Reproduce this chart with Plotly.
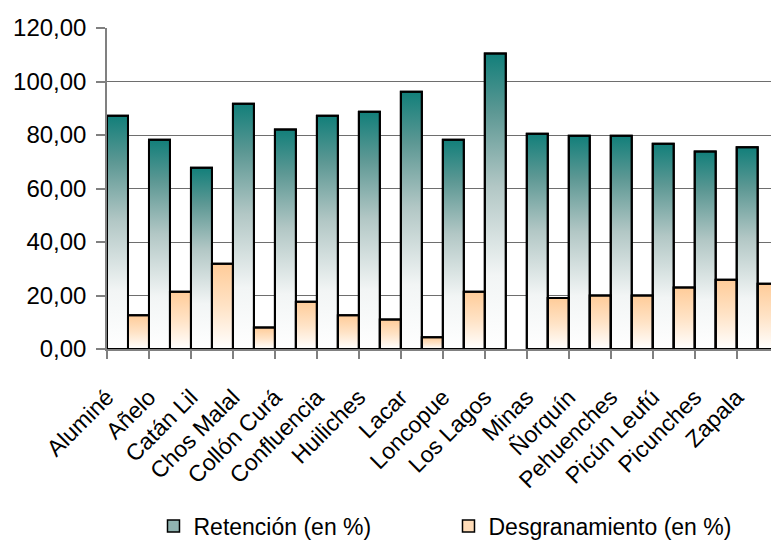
import plotly.graph_objects as go

categories = ["Aluminé", "Añelo", "Catán Lil", "Chos Malal", "Collón Curá", "Confluencia",
              "Huiliches", "Lacar", "Loncopue", "Los Lagos", "Minas", "Ñorquín",
              "Pehuenches", "Picún Leufú", "Picunches", "Zapala"]
retencion = [87.2, 78.2, 67.8, 91.7, 82.1, 87.2, 88.7, 96.2, 78.2, 110.5,
             80.5, 79.7, 79.7, 76.7, 73.8, 75.4]
desgranamiento = [12.6, 21.4, 31.9, 8.0, 17.7, 12.6, 11.0, 4.4, 21.4, None,
                  19.1, 20.0, 20.0, 23.0, 25.9, 24.4]
y_ticks = [0, 20, 40, 60, 80, 100, 120]

series = [
    ("Retención (en %)", retencion, -0.5,
     [[0, "#ffffff"], [0.25, "#f2f5f5"], [0.55, "#b2c7c5"], [0.8, "#5d9894"], [1, "#127f7a"]],
     "#8fb3b0"),
    ("Desgranamiento (en %)", desgranamiento, 0.0,
     [[0, "#ffffff"], [0.5, "#ffe3c6"], [1, "#ffcc99"]],
     "#ffdcb8"),
]
W = 0.5
idx = list(range(len(categories)))

fig = go.Figure()

# gradient fills (one per bar, derived from the data arrays)
for name, vals, off, cs, sw in series:
    for i, v in zip(idx, vals):
        if v is None:
            continue
        x0, x1 = i + off, i + off + W
        fig.add_trace(go.Scatter(
            x=[x0, x1, x1, x0, x0], y=[0, 0, v, v, 0],
            mode="lines", fill="toself",
            fillgradient=dict(type="vertical", colorscale=cs, start=0, stop=v),
            line=dict(color="black", width=2),
            showlegend=False, hoverinfo="skip",
        ))

# actual bars (outline) on an overlaying axis
for name, vals, off, cs, sw in series:
    fig.add_trace(go.Bar(
        x=idx, y=vals, offset=off, width=W, name=name,
        showlegend=False, xaxis="x2",
        marker=dict(color="rgba(0,0,0,0)", line=dict(color="black", width=2)),
    ))

# legend entries
for name, vals, off, cs, sw in series:
    fig.add_trace(go.Bar(
        x=[None], y=[None], name=name, showlegend=True,
        marker=dict(color=sw, line=dict(color="black", width=1.5)),
    ))

xr = [-0.5, 15.317]
fig.update_layout(
    width=771, height=540,
    margin=dict(l=107, r=0, t=28, b=191),
    paper_bgcolor="white", plot_bgcolor="white",
    font=dict(family="Liberation Sans, Arial, sans-serif", size=23, color="#000"),
    separators=",.",
    showlegend=True,
    barmode="overlay",
    xaxis=dict(
        range=xr, tickmode="array", tickvals=[i - 0.5 for i in idx], ticktext=categories,
        tickangle=-45, ticks="outside", ticklen=8, tickcolor="#808080", tickwidth=1.5,
        ticklabelstandoff=16,
        showgrid=False, zeroline=False,
        showline=True, linecolor="#808080", linewidth=1.5,
        tickfont=dict(size=23),
    ),
    xaxis2=dict(range=xr, overlaying="x", visible=False, showgrid=False, zeroline=False),
    yaxis=dict(
        range=[0, 120], tickmode="array", tickvals=y_ticks, tickformat=".2f",
        showgrid=True, gridcolor="#6e6e6e", gridwidth=1,
        zeroline=False, showline=True, linecolor="#808080", linewidth=1.5,
        ticks="outside", ticklen=9, tickcolor="#808080", tickwidth=1.5,
        ticklabelstandoff=5,
        tickfont=dict(size=24),
    ),
    legend=dict(
        orientation="h", xref="container", yref="container",
        x=0.5817, xanchor="center", y=0.0259, yanchor="middle",
        entrywidth=250, font=dict(size=23),
    ),
)

fig.write_html(
    "out.html",
    config={"displayModeBar": False},
    post_script="document.body.style.margin='0';document.body.style.overflow='hidden';",
)
